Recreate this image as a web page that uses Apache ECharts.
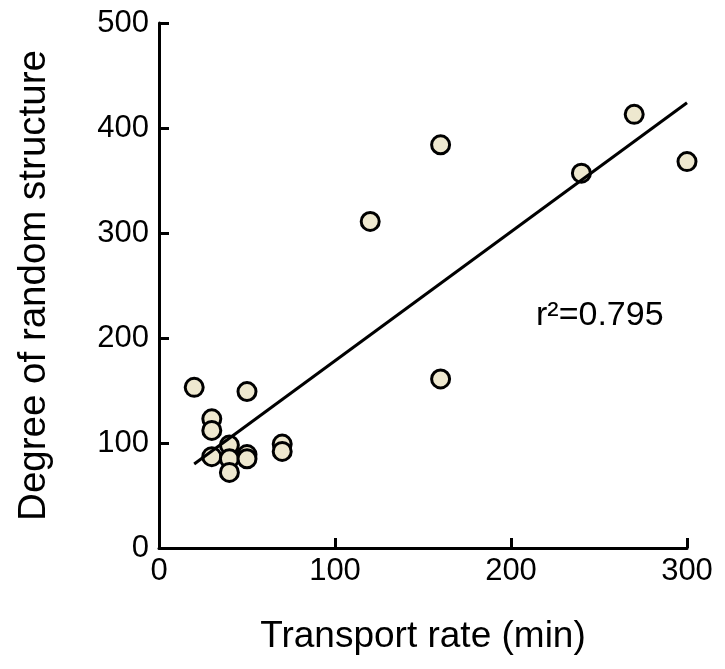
<!DOCTYPE html>
<html>
<head>
<meta charset="utf-8">
<script src="https://cdn.jsdelivr.net/npm/echarts@6/dist/echarts.min.js"></script>
<style>html,body{margin:0;padding:0;background:#fff}#c{width:725px;height:669px}</style>
</head>
<body>
<div id="c"></div>
<script>
// Data
const transportRate = [20, 50, 30, 30, 30, 40, 40, 40, 50, 50, 70, 70, 120, 160, 160, 240, 270, 300];
const randomStructure = [153, 149, 123, 112, 87, 98, 85, 72, 89, 85, 99, 92, 311, 384, 161, 357, 413, 368];
const fitX = [20, 300];
const fitY = [80, 424];
const xTicks = [0, 100, 200, 300];
const yTicks = [0, 100, 200, 300, 400, 500];
const xName = 'Transport rate (min)';
const yName = 'Degree of random structure';
const rSquaredText = 'r²=0.795';

const FONT = '"Liberation Sans", Arial, sans-serif';
const pts = transportRate.map((x, i) => [x, randomStructure[i]]);
const fit = fitX.map((x, i) => [x, fitY[i]]);

const axisCommon = {
  axisLine: { show: true, lineStyle: { color: '#000', width: 3 } },
  axisTick: { show: true, inside: true, length: 10, lineStyle: { color: '#000', width: 3 } },
  splitLine: { show: false },
  axisLabel: { color: '#000', fontSize: 31, fontFamily: FONT },
  nameLocation: 'middle',
  nameTextStyle: { color: '#000', fontSize: 37, fontFamily: FONT }
};

const chart = echarts.init(document.getElementById('c'), null, { renderer: 'canvas' });
chart.setOption({
  backgroundColor: '#fff',
  animation: false,
  grid: { left: 159, right: 38, top: 23, bottom: 121, containLabel: false },
  xAxis: Object.assign({}, axisCommon, {
    type: 'value', min: xTicks[0], max: xTicks[xTicks.length - 1], interval: xTicks[1] - xTicks[0],
    name: xName, nameGap: 70,
    axisLabel: Object.assign({}, axisCommon.axisLabel, { margin: 8 })
  }),
  yAxis: Object.assign({}, axisCommon, {
    type: 'value', min: yTicks[0], max: yTicks[yTicks.length - 1], interval: yTicks[1] - yTicks[0],
    name: yName, nameGap: 105,
    nameTextStyle: Object.assign({}, axisCommon.nameTextStyle, { fontSize: 38.5 }),
    axisLabel: Object.assign({}, axisCommon.axisLabel, { margin: 10 })
  }),
  series: [
    {
      type: 'scatter',
      data: pts,
      symbol: 'circle',
      symbolSize: 18,
      itemStyle: { color: '#eee8cf', borderColor: '#000', borderWidth: 3, opacity: 1 },
      z: 2
    },
    {
      type: 'line',
      data: fit,
      symbol: 'none',
      lineStyle: { color: '#000', width: 3 },
      z: 3
    }
  ],
  graphic: [
    {
      type: 'text',
      left: 536,
      top: 299,
      style: { text: rSquaredText, font: '34px ' + FONT, fill: '#000' }
    }
  ]
});
</script>
</body>
</html>
